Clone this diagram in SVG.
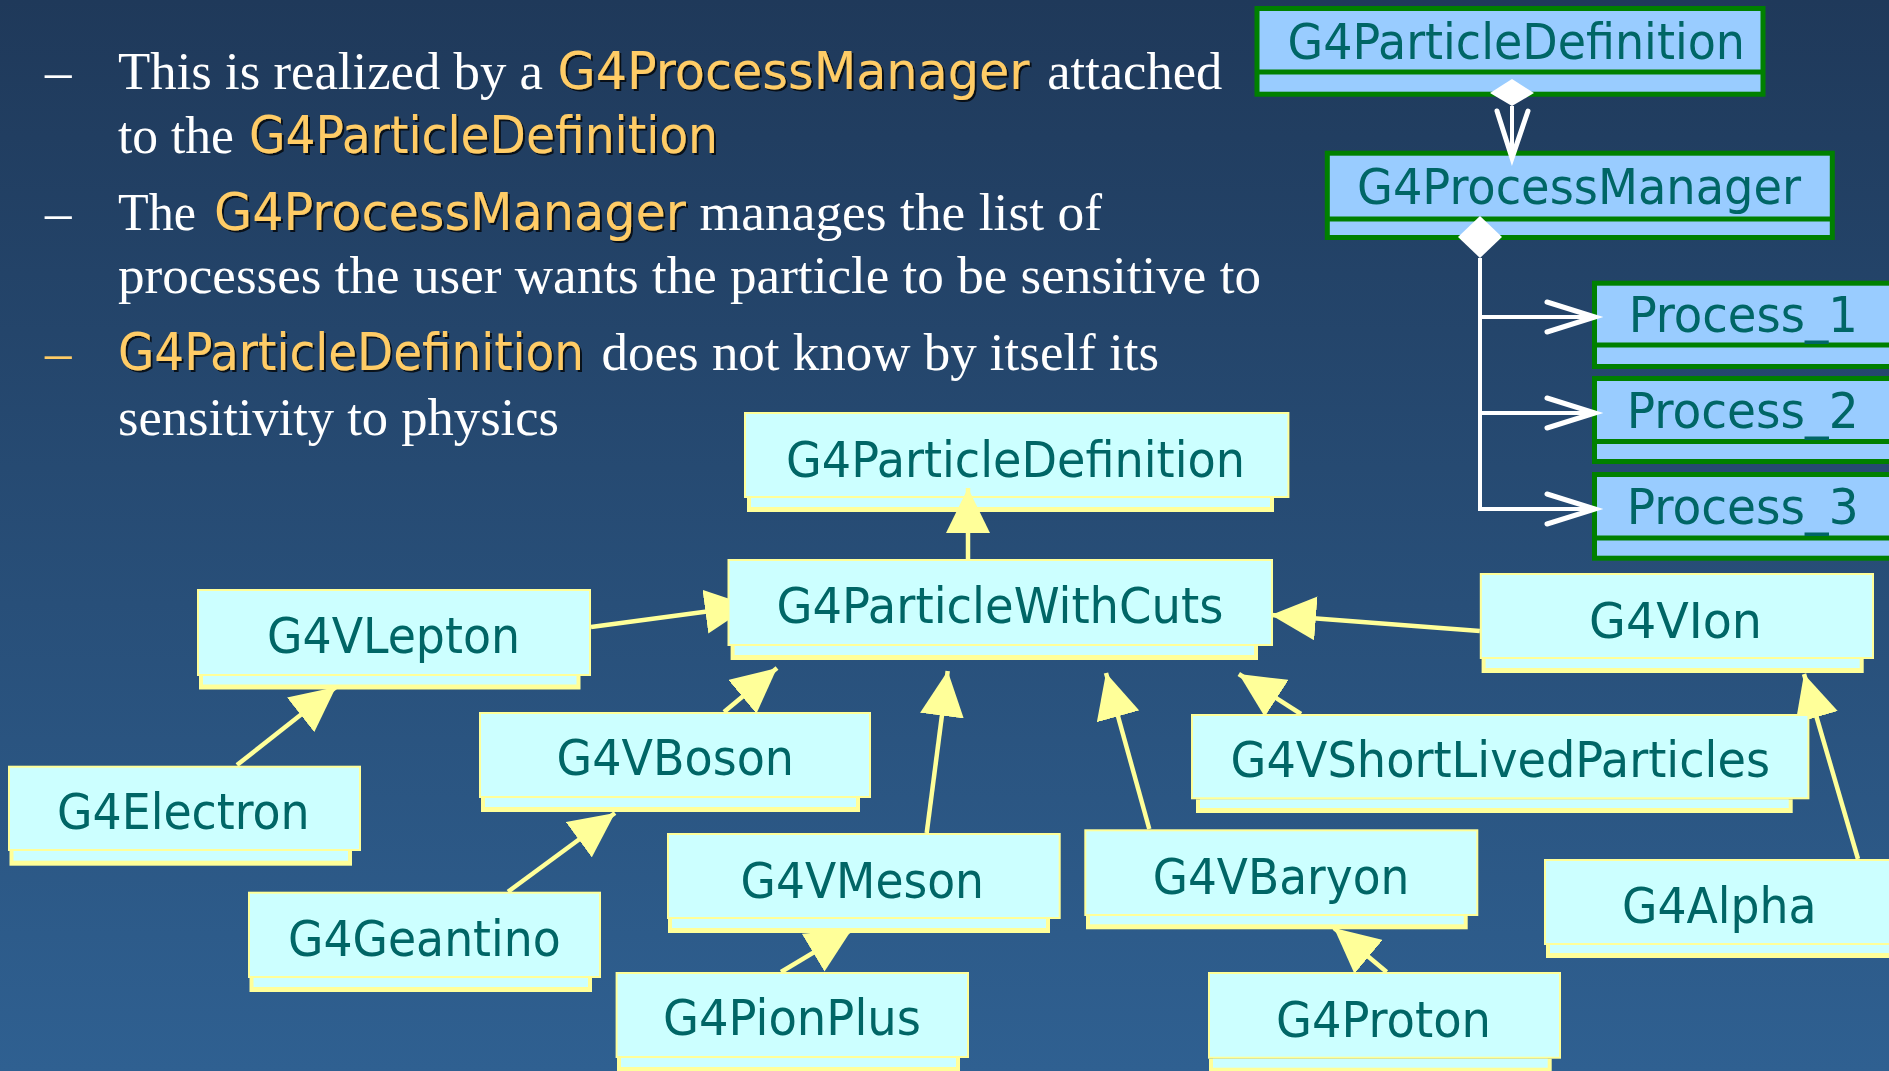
<svg xmlns="http://www.w3.org/2000/svg" width="1889" height="1071" viewBox="0 0 1889 1071">
<defs>
<linearGradient id="bg" x1="0" y1="0" x2="0" y2="1">
<stop offset="0" stop-color="#1f395a"/>
<stop offset="1" stop-color="#2f6091"/>
</linearGradient>
<marker id="tri" markerUnits="userSpaceOnUse" viewBox="0 0 45 44" markerWidth="45" markerHeight="44" refX="45" refY="22" orient="auto">
<path d="M0,0 L45,22 L0,44 Z" fill="#ffff99"/>
</marker>
<filter id="sh" x="-5%" y="-20%" width="110%" height="140%">
<feDropShadow dx="2" dy="2" stdDeviation="0.3" flood-color="#000" flood-opacity="0.75"/>
</filter>
<style>
.ybox{fill:#ccffff;stroke:#ffff99;stroke-width:2}
.ystrip{fill:#ffff99}
.ystripin{fill:#ccffff}
.lbl{font-family:"DejaVu Sans Condensed","DejaVu Sans",sans-serif;font-stretch:condensed;font-size:50px;fill:#006666}
.gbox{fill:#99ccff;stroke:#008000;stroke-width:5}
.gdiv{stroke:#008000;stroke-width:5}
.yl{stroke:#ffff99;stroke-width:4.5;fill:none;marker-end:url(#tri)}
.wl{stroke:#ffffff;stroke-width:4;fill:none}
.wa{stroke:#ffffff;stroke-width:5;fill:none;stroke-linecap:round;stroke-linejoin:miter}
.wd{fill:#ffffff}
.serif{font-family:"Liberation Serif","Times New Roman",serif;font-size:53px;fill:#ffffff}
.ysans{font-family:"DejaVu Sans Condensed","DejaVu Sans",sans-serif;font-stretch:condensed;font-size:51px;fill:#ffcc66;filter:url(#sh)}
.dash{font-family:"Liberation Serif",serif;font-size:53px;fill:#ffffff}
</style>
</defs>
<rect x="0" y="0" width="1889" height="1071" fill="url(#bg)"/>

<g id="n-pd-main">
<rect class="ystrip" x="747" y="498" width="527" height="14"/>
<rect class="ystripin" x="751" y="498" width="519" height="9"/>
<rect class="ybox" x="745" y="413" width="543.4" height="84"/>
<text class="lbl" x="786" y="476.7" textLength="459" lengthAdjust="spacingAndGlyphs">G4ParticleDefinition</text>
</g>

<g id="g-pd">
<rect class="gbox" x="1257" y="8.5" width="506" height="85.7"/>
<line class="gdiv" x1="1257" y1="72" x2="1763" y2="72"/>
<text class="lbl" x="1287.6" y="59" textLength="457.4" lengthAdjust="spacingAndGlyphs">G4ParticleDefinition</text>
</g>
<g id="g-pm">
<rect class="gbox" x="1327.3" y="153.2" width="505" height="84.3"/>
<line class="gdiv" x1="1327.3" y1="219" x2="1832.3" y2="219"/>
<text class="lbl" x="1357" y="204" textLength="444" lengthAdjust="spacingAndGlyphs">G4ProcessManager</text>
</g>
<g id="g-p1">
<rect class="gbox" x="1594.5" y="283.2" width="310" height="83.3"/>
<line class="gdiv" x1="1594.5" y1="345" x2="1904" y2="345"/>
<text class="lbl" x="1628.7" y="331.7" textLength="229.1" lengthAdjust="spacingAndGlyphs">Process_1</text>
</g>
<g id="g-p2">
<rect class="gbox" x="1594.5" y="378.5" width="310" height="83"/>
<line class="gdiv" x1="1594.5" y1="441.5" x2="1904" y2="441.5"/>
<text class="lbl" x="1626.8" y="428.3" textLength="231.8" lengthAdjust="spacingAndGlyphs">Process_2</text>
</g>
<g id="g-p3">
<rect class="gbox" x="1594.5" y="474.5" width="310" height="83.7"/>
<line class="gdiv" x1="1594.5" y1="538" x2="1904" y2="538"/>
<text class="lbl" x="1626.8" y="524.3" textLength="231.8" lengthAdjust="spacingAndGlyphs">Process_3</text>
</g>

<g id="connectors">
<path class="yl" d="M968,559 L968,488"/>
<path class="yl" d="M591,627 L750,605.8"/>
<path class="yl" d="M237,765 L336,687"/>
<path class="yl" d="M724,712 L777,668"/>
<path class="yl" d="M508,891.7 L615,813"/>
<path class="yl" d="M926.7,833 L947.7,671"/>
<path class="yl" d="M781,972 L851.8,929.6"/>
<path class="yl" d="M1149.3,829 L1106,673"/>
<path class="yl" d="M1386.7,972 L1334,928"/>
<path class="yl" d="M1301,714 L1238.8,674"/>
<path class="yl" d="M1479.8,631 L1271,615"/>
<path class="yl" d="M1858,859 L1804,674"/>
<polygon class="wd" points="1512,79 1534,93 1512,106 1490,93"/>
<line class="wl" x1="1512" y1="106" x2="1512" y2="156"/>
<polyline class="wa" points="1497,111 1512,158 1528,111"/>
<polygon class="wd" points="1480,216 1502,237 1480,258 1458,237"/>
<path class="wl" d="M1480,258 V509 H1593 M1480,317 H1593 M1480,413 H1593"/>
<polyline class="wa" points="1547,302 1595,317 1547,332"/>
<polyline class="wa" points="1547,398 1595,413 1547,428"/>
<polyline class="wa" points="1547,494 1595,509 1547,524"/>
</g>

<g id="n-cuts">
<rect class="ystrip" x="730.6" y="646" width="527.4" height="14"/>
<rect class="ystripin" x="734.6" y="646" width="519.4" height="9"/>
<rect class="ybox" x="728.5" y="560" width="543.5" height="85"/>
<text class="lbl" x="776.5" y="622.7" textLength="447" lengthAdjust="spacingAndGlyphs">G4ParticleWithCuts</text>
</g>
<g id="n-lepton">
<rect class="ystrip" x="199" y="676" width="381.5" height="13.5"/>
<rect class="ystripin" x="203" y="676" width="373.5" height="8.5"/>
<rect class="ybox" x="198" y="590" width="392" height="85"/>
<text class="lbl" x="267" y="653" textLength="253" lengthAdjust="spacingAndGlyphs">G4VLepton</text>
</g>
<g id="n-boson">
<rect class="ystrip" x="481" y="798" width="379" height="14"/>
<rect class="ystripin" x="485" y="798" width="371" height="9"/>
<rect class="ybox" x="480" y="713" width="390" height="84"/>
<text class="lbl" x="556.6" y="775" textLength="237.4" lengthAdjust="spacingAndGlyphs">G4VBoson</text>
</g>
<g id="n-electron">
<rect class="ystrip" x="9.5" y="851" width="342.5" height="14.7"/>
<rect class="ystripin" x="13.5" y="851" width="334.5" height="9.7"/>
<rect class="ybox" x="9" y="766.7" width="351" height="83.3"/>
<text class="lbl" x="57" y="829" textLength="252.6" lengthAdjust="spacingAndGlyphs">G4Electron</text>
</g>
<g id="n-geantino">
<rect class="ystrip" x="249.5" y="978" width="342.5" height="14"/>
<rect class="ystripin" x="253.5" y="978" width="334.5" height="9"/>
<rect class="ybox" x="249" y="892.7" width="351" height="84.3"/>
<text class="lbl" x="288" y="956" textLength="272.7" lengthAdjust="spacingAndGlyphs">G4Geantino</text>
</g>
<g id="n-meson">
<rect class="ystrip" x="668" y="919" width="382" height="14"/>
<rect class="ystripin" x="672" y="919" width="374" height="9"/>
<rect class="ybox" x="668" y="834" width="391.7" height="84"/>
<text class="lbl" x="740.6" y="897.7" textLength="243.4" lengthAdjust="spacingAndGlyphs">G4VMeson</text>
</g>
<g id="n-pionplus">
<rect class="ystrip" x="617" y="1058" width="343" height="16"/>
<rect class="ystripin" x="621" y="1058" width="335" height="9"/>
<rect class="ybox" x="616.6" y="973" width="351.4" height="84"/>
<text class="lbl" x="663" y="1035" textLength="258" lengthAdjust="spacingAndGlyphs">G4PionPlus</text>
</g>
<g id="n-baryon">
<rect class="ystrip" x="1086" y="916" width="381.7" height="13.3"/>
<rect class="ystripin" x="1090" y="916" width="373.7" height="8.3"/>
<rect class="ybox" x="1085.3" y="830.3" width="392" height="84.7"/>
<text class="lbl" x="1152.7" y="894" textLength="256.6" lengthAdjust="spacingAndGlyphs">G4VBaryon</text>
</g>
<g id="n-proton">
<rect class="ystrip" x="1209" y="1058.7" width="342.7" height="16"/>
<rect class="ystripin" x="1213" y="1058.7" width="334.7" height="9"/>
<rect class="ybox" x="1209" y="973" width="351" height="84.7"/>
<text class="lbl" x="1276" y="1036.7" textLength="215" lengthAdjust="spacingAndGlyphs">G4Proton</text>
</g>
<g id="n-shortlived">
<rect class="ystrip" x="1196" y="799.3" width="596.7" height="13.7"/>
<rect class="ystripin" x="1200" y="799.3" width="588.7" height="8.7"/>
<rect class="ybox" x="1192" y="715" width="616.4" height="83.3"/>
<text class="lbl" x="1230.6" y="777" textLength="539.4" lengthAdjust="spacingAndGlyphs">G4VShortLivedParticles</text>
</g>
<g id="n-ion">
<rect class="ystrip" x="1481.6" y="659" width="382.1" height="14"/>
<rect class="ystripin" x="1485.6" y="659" width="374.1" height="9"/>
<rect class="ybox" x="1480.8" y="574" width="392.2" height="84"/>
<text class="lbl" x="1589" y="637.7" textLength="173" lengthAdjust="spacingAndGlyphs">G4VIon</text>
</g>
<g id="n-alpha">
<rect class="ystrip" x="1546" y="945" width="360" height="13"/>
<rect class="ystripin" x="1550" y="945" width="360" height="8"/>
<rect class="ybox" x="1545" y="860" width="360" height="84"/>
<text class="lbl" x="1622" y="922.7" textLength="194.6" lengthAdjust="spacingAndGlyphs">G4Alpha</text>
</g>

<g id="bullets">
<text class="dash" x="45" y="89">–</text>
<text class="serif" x="118" y="89" textLength="425" lengthAdjust="spacingAndGlyphs">This is realized by a</text>
<text class="ysans" x="557.6" y="89" textLength="472" lengthAdjust="spacingAndGlyphs">G4ProcessManager</text>
<text class="serif" x="1047.3" y="89" textLength="175" lengthAdjust="spacingAndGlyphs">attached</text>
<text class="serif" x="118" y="153.3" textLength="116" lengthAdjust="spacingAndGlyphs">to the</text>
<text class="ysans" x="249" y="153.3" textLength="469" lengthAdjust="spacingAndGlyphs">G4ParticleDefinition</text>
<text class="dash" x="45" y="230">–</text>
<text class="serif" x="118" y="230" textLength="78" lengthAdjust="spacingAndGlyphs">The</text>
<text class="ysans" x="214" y="230" textLength="472" lengthAdjust="spacingAndGlyphs">G4ProcessManager</text>
<text class="serif" x="699.6" y="230" textLength="402.4" lengthAdjust="spacingAndGlyphs">manages the list of</text>
<text class="serif" x="118" y="293.3" textLength="1143" lengthAdjust="spacingAndGlyphs">processes the user wants the particle to be sensitive to</text>
<text class="dash" x="45" y="370" fill="#ffcc66" style="fill:#ffcc66">–</text>
<text class="ysans" x="118" y="370" textLength="466" lengthAdjust="spacingAndGlyphs">G4ParticleDefinition</text>
<text class="serif" x="601.6" y="370" textLength="557.4" lengthAdjust="spacingAndGlyphs">does not know by itself its</text>
<text class="serif" x="118" y="435" textLength="441" lengthAdjust="spacingAndGlyphs">sensitivity to physics</text>
</g>
</svg>
